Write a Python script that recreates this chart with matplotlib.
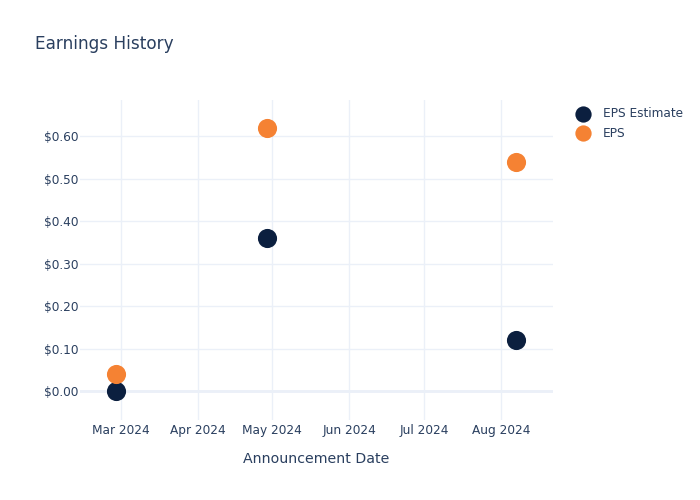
import matplotlib
matplotlib.use("Agg")
import matplotlib.pyplot as plt
import matplotlib.dates as mdates
import numpy as np
from datetime import datetime

dates = ["2024-02-28", "2024-04-29", "2024-08-07"]
eps_estimate = [0.00, 0.36, 0.12]
eps_actual = [0.04, 0.62, 0.54]
ytick_vals = [0.0, 0.1, 0.2, 0.3, 0.4, 0.5, 0.6]

x = [datetime.strptime(d, "%Y-%m-%d") for d in dates]
txt = "#2a3f5f"
grid = "#ebf0f8"

fig = plt.figure(figsize=(7, 5), dpi=100)
ax = fig.add_axes([80/700, 0.16, (553-80)/700, 0.64])
ax.set_facecolor("white")
for s in ax.spines.values():
    s.set_visible(False)

ax.scatter(x, eps_estimate, s=190, color="#0b1f3f", zorder=3, label="EPS Estimate", linewidths=0)
ax.scatter(x, eps_actual, s=190, color="#f58233", zorder=3, label="EPS", linewidths=0)

ax.set_ylim(-0.068, 0.685)
ax.set_xlim(datetime(2024, 2, 13, 12), datetime(2024, 8, 22))
ax.set_yticks(ytick_vals)
ax.set_yticklabels([f"${v:.2f}" for v in ytick_vals])
ax.axhline(0, color=grid, lw=2, zorder=1)
ax.xaxis.set_major_locator(mdates.MonthLocator(bymonthday=1))
ax.xaxis.set_major_formatter(mdates.DateFormatter("%b %Y"))
ax.grid(True, color=grid, lw=1, zorder=0)
ax.tick_params(axis="both", length=0, labelsize=8.7, colors=txt)
ax.tick_params(axis="y", pad=1)
ax.tick_params(axis="x", pad=3)
ax.set_xlabel("Announcement Date", fontsize=10.2, color=txt, labelpad=11)

fig.text(35/700, 1 - 44/500, "Earnings History", fontsize=12.2, color=txt, va="center", ha="left")

leg = ax.legend(loc="upper left", bbox_to_anchor=(576/700, 1 - 107/500), bbox_transform=fig.transFigure,
                frameon=False, fontsize=8.7, labelcolor=txt, handletextpad=1.05, borderaxespad=0,
                labelspacing=0.55, markerscale=0.85, borderpad=0, handlelength=1.2)

fig.savefig("out.png", dpi=100)
